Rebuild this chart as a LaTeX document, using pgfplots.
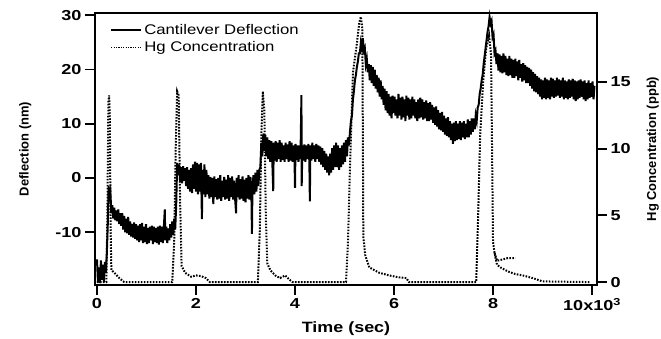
\documentclass[border=0pt]{standalone}
\usepackage{fontspec}
\setmainfont{Liberation Sans}
\newfontfamily\hfont{Liberation Sans}[FakeStretch=1.2]
\newfontfamily\tfont{Liberation Sans}[FakeStretch=1.25]
\usepackage{pgfplots}
\pgfplotsset{compat=1.18}
\newcommand\tickfont{\tfont\bfseries\fontsize{14.5}{14.5}\selectfont}
\newcommand\vlabfont{\bfseries\fontsize{13}{13}\selectfont}
\pgfplotsset{
  common/.style={
    at={(0,0)}, anchor=south west,
    scale only axis, width=502bp, height=272bp,
    xmin=-0.04, xmax=10.10,
    tick align=outside, major tick length=10bp,
    every tick/.style={line width=1.8bp, black},
    axis line style={line width=1.6bp},
    /pgf/number format/assume math mode=true,
    ticklabel style={font=\tickfont},
    clip=false,
  }
}
\begin{document}
\begin{tikzpicture}
% Right axis: Hg concentration (ppb)
\begin{axis}[common,
  ymin=-0.22, ymax=20.18,
  axis x line=none,
  axis y line*=right,
  ytick={0,5,10,15},
  ylabel={Hg Concentration (ppb)},
  ylabel style={at={(axis description cs:1.111,0.5)}, anchor=center, font=\vlabfont},
]
\addplot[black, line width=2bp, dash pattern=on 1.6bp off 1.4bp] coordinates {
(0.00,0) (0.19,0) (0.21,5) (0.23,13.5) (0.245,14.0) (0.26,12) (0.275,4) (0.29,0.9)
(0.35,0.7) (0.45,0.3) (0.55,0) (1.52,0) (1.56,3) (1.59,10) (1.62,14.3) (1.65,14.0)
(1.68,6) (1.71,1.2) (1.78,0.7) (1.9,0.4) (2.0,0.5) (2.1,0.45) (2.2,0.3) (2.28,0)
(3.25,0) (3.29,4) (3.32,11) (3.35,14.3) (3.38,13) (3.41,5) (3.44,1.4) (3.5,0.9)
(3.6,0.5) (3.7,0.3) (3.8,0.5) (3.88,0.2) (3.95,0) (5.03,0) (5.07,3) (5.11,8.6)
(5.17,15.7) (5.25,17.9) (5.30,19.5) (5.33,19.9) (5.36,19) (5.38,3.4) (5.42,2.0)
(5.5,1.1) (5.7,0.7) (5.9,0.5) (6.1,0.35) (6.25,0.3) (6.30,0) (7.66,0) (7.70,5)
(7.74,11) (7.80,15) (7.86,17.5) (7.92,18.5) (7.96,17) (7.98,10) (8.00,3) (8.03,2.2)
(8.08,1.3) (8.15,1.1) (8.3,0.8) (8.45,0.6) (8.6,0.5) (8.8,0.3) (9.0,0.05) (9.95,0)
};
\addplot[black, line width=2bp, dash pattern=on 1.6bp off 1.4bp] coordinates {
(8.03,2.2) (8.08,1.6) (8.2,1.7) (8.3,1.8) (8.45,1.8)
};
\end{axis}
% Left axis: deflection (nm)
\begin{axis}[common,
  ymin=-19.74, ymax=30.44,
  xtick={0,2,4,6,8,10},
  xticklabels={0,2,4,6,8,10x10\textsuperscript{3}},
  ytick={-10,0,10,20,30},
  xtick pos=bottom, ytick pos=left,
  xlabel={Time (sec)},
  xlabel style={at={(axis description cs:0.5,-0.162)}, anchor=center, font=\hfont\bfseries\fontsize{15}{15}\selectfont},
  ylabel={Deflection (nm)},
  ylabel style={at={(axis description cs:-0.139,0.5)}, anchor=center, font=\vlabfont},
  legend style={draw=none, fill=none, at={(axis description cs:0.03,0.967)}, anchor=north west,
    font=\hfont\fontsize{14}{14}\selectfont, row sep=2bp, inner sep=0pt},
  legend cell align=left,
  legend image code/.code={\draw[#1] (0bp,0bp) -- (30bp,0bp);},
]
\addplot[black, line width=2bp] coordinates {
(0.00,-15.0) (0.02,-19.3) (0.04,-16.5) (0.06,-19.4) (0.08,-15.2) (0.10,-18.8) (0.12,-16.0)
(0.14,-19.2) (0.16,-15.5) (0.18,-17.5) (0.20,-13.5) (0.22,-8) (0.235,-1.5) (0.25,-3.5)
(0.27,-2.5) (0.29,-6.5) (0.31,-5.0)
(0.33,-7.5) (0.35,-5.5) (0.37,-7.8) (0.39,-6.0) (0.41,-8.0) (0.43,-5.8) (0.45,-8.5)
(0.47,-6.5) (0.49,-8.8) (0.51,-6.5) (0.53,-9.5) (0.55,-7.0) (0.57,-10.0) (0.59,-7.5)
(0.61,-10.2) (0.63,-7.2) (0.65,-10.5) (0.67,-8.0) (0.69,-10.8) (0.71,-8.5) (0.73,-11.0)
(0.75,-8.2) (0.77,-11.2) (0.79,-8.5) (0.81,-11.5) (0.83,-8.8) (0.85,-11.8) (0.87,-8.5)
(0.89,-11.5) (0.91,-8.3) (0.93,-12.0) (0.95,-9.0) (0.97,-11.8) (0.99,-8.5) (1.01,-12.2)
(1.03,-9.2) (1.05,-12.0) (1.07,-9.0) (1.09,-11.5) (1.11,-8.8) (1.13,-12.2) (1.15,-9.0)
(1.17,-11.8) (1.19,-9.2) (1.21,-12.0) (1.23,-9.0) (1.25,-12.3) (1.27,-8.8) (1.29,-11.8)
(1.31,-9.0) (1.33,-12.0) (1.35,-9.2) (1.37,-5.8) (1.38,-11.5) (1.40,-9.0) (1.42,-12.0)
(1.44,-9.3) (1.46,-11.5) (1.48,-8.5) (1.50,-11.0) (1.52,-8.0) (1.54,-10.5) (1.56,-7.5)
(1.58,-9.5) (1.60,-5.0) (1.62,2.8) (1.64,0.5) (1.66,2.5) (1.68,-0.8)
(1.70,2.0) (1.72,-1.0) (1.74,2.2) (1.76,-0.5) (1.78,1.8) (1.80,-1.5) (1.82,2.0) (1.84,-2.0)
(1.86,1.5) (1.88,-2.5) (1.90,1.8) (1.92,-2.8) (1.94,2.5) (1.96,-2.0) (1.98,3.0) (2.00,-2.5)
(2.02,2.8) (2.04,-3.0) (2.06,2.5) (2.08,-2.5) (2.10,2.8) (2.12,-7.6) (2.13,1.5) (2.15,-3.0)
(2.17,2.5) (2.19,-3.5) (2.21,1.5) (2.23,-3.0) (2.25,0.5) (2.27,-3.8) (2.29,0.2) (2.31,-3.5)
(2.33,0.0) (2.35,-4.8) (2.37,0.3) (2.39,-3.5) (2.41,-0.2) (2.43,-4.0) (2.45,0.0) (2.47,-3.8)
(2.49,0.5) (2.51,-4.2) (2.53,-0.5) (2.55,-3.5) (2.57,0.2) (2.59,-4.0) (2.61,-0.3) (2.63,-3.8)
(2.65,0.5) (2.67,-4.2) (2.69,0.0) (2.71,-3.5) (2.73,0.3) (2.75,-4.0) (2.77,-0.5) (2.79,-3.8)
(2.81,-6.5) (2.82,0.0) (2.84,-3.5) (2.86,0.5) (2.88,-4.0) (2.90,-0.2) (2.92,-3.8) (2.94,0.3)
(2.96,-4.2) (2.98,-0.3) (3.00,-4.5) (3.02,0.0) (3.04,-3.8) (3.06,0.5) (3.08,-4.0) (3.10,0.2)
(3.12,-3.5) (3.13,-10.3) (3.14,-2.0) (3.16,0.5) (3.18,-3.0) (3.20,1.0) (3.22,-2.5) (3.24,1.5)
(3.26,-1.5) (3.28,1.5) (3.30,2.0) (3.32,6.5) (3.34,4.0) (3.36,8.2) (3.38,5.0) (3.40,8.0)
(3.42,4.0) (3.44,7.5) (3.46,3.5) (3.48,7.0) (3.50,3.0) (3.52,6.8) (3.54,3.5) (3.56,-2.4)
(3.57,6.5) (3.59,3.2) (3.61,6.8) (3.63,3.0) (3.65,6.5) (3.67,3.5) (3.69,7.0) (3.71,3.0)
(3.73,6.5) (3.75,3.3) (3.77,6.0) (3.79,3.0) (3.81,6.5) (3.83,3.5) (3.85,6.2) (3.87,3.0)
(3.89,6.8) (3.91,3.2) (3.93,6.5) (3.95,3.0) (3.97,6.0) (3.99,3.5) (4.00,-1.8) (4.01,6.3)
(4.03,3.3) (4.05,6.0) (4.07,3.0) (4.09,6.0) (4.11,3.5) (4.13,15.3) (4.135,-1.5) (4.15,6.0)
(4.17,3.2) (4.19,6.2) (4.21,3.0) (4.23,6.0) (4.25,3.5) (4.27,6.3) (4.29,3.0) (4.30,-4.3)
(4.31,6.0) (4.33,3.2) (4.35,6.5) (4.37,3.5) (4.39,6.0) (4.41,3.0) (4.43,6.3) (4.45,3.5)
(4.47,6.0) (4.49,3.0) (4.51,5.8) (4.53,2.5) (4.55,5.5) (4.57,2.0) (4.59,5.0) (4.61,1.5)
(4.63,4.5) (4.65,1.0) (4.67,4.0) (4.69,0.5) (4.71,4.5) (4.73,1.0) (4.75,5.5) (4.77,1.5)
(4.79,6.0) (4.81,2.0) (4.83,6.5) (4.85,2.0) (4.87,6.0) (4.89,1.5) (4.91,5.5) (4.93,2.0)
(4.95,6.0) (4.97,2.5) (4.99,6.5) (5.01,3.0) (5.03,7.0) (5.05,4.0) (5.07,7.5) (5.09,6.0)
(5.11,8.5) (5.13,10.5) (5.15,11.5) (5.17,14.5) (5.19,16.0) (5.21,18.0) (5.23,19.0)
(5.25,20.5) (5.27,21.5) (5.29,23.0) (5.31,23.0) (5.33,25.0) (5.35,24.0) (5.37,25.8)
(5.39,23.5) (5.41,24.0) (5.43,21.0) (5.45,22.0) (5.47,19.5)
(5.49,21.0) (5.51,18.0) (5.53,20.8) (5.55,17.5) (5.57,20.5) (5.59,17.0) (5.61,20.0)
(5.63,16.5) (5.65,19.0) (5.67,15.8) (5.69,18.5) (5.71,15.0) (5.73,18.0) (5.75,14.5)
(5.77,17.0) (5.79,13.5) (5.81,16.5) (5.83,12.5) (5.85,16.0) (5.87,12.0) (5.89,15.5)
(5.91,11.5) (5.93,15.0) (5.95,11.0) (5.97,15.2) (5.99,12.0) (6.01,15.0) (6.03,11.5)
(6.05,14.5) (6.07,11.0) (6.09,15.5) (6.11,11.5) (6.13,14.8) (6.15,10.8) (6.17,15.0)
(6.19,11.2) (6.21,14.5) (6.23,10.5) (6.25,15.2) (6.27,11.5) (6.29,14.8) (6.31,10.8)
(6.33,14.5) (6.35,11.0) (6.37,15.0) (6.39,11.5) (6.41,14.5) (6.43,11.0) (6.45,14.0)
(6.47,10.5) (6.49,14.5) (6.51,11.0) (6.53,14.8) (6.55,11.2) (6.57,14.5) (6.59,10.8)
(6.61,14.0) (6.63,11.0) (6.65,14.3) (6.67,10.5) (6.69,13.8) (6.71,10.5) (6.73,14.0)
(6.75,10.8) (6.77,13.5) (6.79,10.2) (6.81,13.0) (6.83,9.8) (6.85,13.2) (6.87,9.5)
(6.89,12.5) (6.91,9.0) (6.93,12.0) (6.95,8.8) (6.97,12.2) (6.99,8.5) (7.01,11.5)
(7.03,8.0) (7.05,11.0) (7.07,7.8) (7.09,11.2) (7.11,7.5) (7.13,10.5) (7.15,7.0)
(7.17,10.0) (7.19,6.3) (7.21,10.2) (7.23,6.8) (7.25,10.5) (7.27,7.0) (7.29,10.0)
(7.31,7.2) (7.33,10.5) (7.35,7.0) (7.37,10.2) (7.39,7.5) (7.41,10.5) (7.43,7.2)
(7.45,10.0) (7.47,7.5) (7.49,10.8) (7.51,7.5) (7.53,10.5) (7.55,8.0) (7.57,11.0)
(7.59,8.5) (7.61,11.0) (7.63,9.0) (7.65,11.5) (7.67,10.5) (7.69,13.0) (7.71,13.5)
(7.73,15.5) (7.75,16.5) (7.77,18.0) (7.79,19.0) (7.81,21.0) (7.83,22.5) (7.85,24.0)
(7.87,25.5) (7.89,27.0) (7.91,28.0) (7.93,29.7) (7.95,28.5) (7.97,29.0) (7.99,26.0)
(8.01,26.5) (8.03,23.0) (8.05,23.5) (8.07,21.0) (8.09,23.0) (8.11,19.8) (8.13,22.8)
(8.15,19.5) (8.17,22.5) (8.19,19.3) (8.21,23.0) (8.23,19.5) (8.25,22.5) (8.27,19.0)
(8.29,22.0) (8.31,18.8) (8.33,22.5) (8.35,19.0) (8.37,22.0) (8.39,18.5) (8.41,21.8)
(8.43,18.5) (8.45,22.0) (8.47,18.8) (8.49,21.5) (8.51,18.0) (8.53,21.8) (8.55,18.5)
(8.57,21.0) (8.59,17.8) (8.61,21.2) (8.63,18.0) (8.65,20.8) (8.67,17.5) (8.69,20.5)
(8.71,17.5) (8.73,20.3) (8.75,17.0) (8.77,20.0) (8.79,16.5) (8.81,19.5) (8.83,16.0)
(8.85,19.2) (8.87,15.8) (8.89,18.8) (8.91,15.5) (8.93,18.5) (8.95,15.0) (8.97,18.2)
(8.99,14.5) (9.01,18.0) (9.03,14.8) (9.05,18.5) (9.07,14.5) (9.09,18.2) (9.11,14.8)
(9.13,18.0) (9.15,14.5) (9.17,18.5) (9.19,15.0) (9.21,18.3) (9.23,14.8) (9.25,18.0)
(9.27,15.0) (9.29,18.5) (9.31,15.2) (9.33,18.2) (9.35,14.8) (9.37,18.0) (9.39,15.0)
(9.41,18.5) (9.43,14.5) (9.45,18.0) (9.47,14.8) (9.49,17.8) (9.51,14.5) (9.53,18.2)
(9.55,14.8) (9.57,18.0) (9.59,15.0) (9.61,18.3) (9.63,14.5) (9.65,18.0) (9.67,14.2)
(9.69,17.8) (9.71,14.5) (9.73,18.0) (9.75,14.8) (9.77,18.2) (9.79,15.0) (9.81,17.8)
(9.83,14.5) (9.85,18.0) (9.87,14.2) (9.89,17.5) (9.91,14.5) (9.93,18.0) (9.95,14.8)
(9.97,17.5) (9.99,15.0) (10.01,17.8) (10.03,14.5) (10.05,17.0)
};
\addlegendentry{Cantilever Deflection}
\addlegendimage{black, line width=1.3bp, dash pattern=on 1.2bp off 1.2bp}
\addlegendentry{Hg Concentration}
\end{axis}
\pgfresetboundingbox
\path (-95bp,-54bp) rectangle (566bp,285bp);
\end{tikzpicture}
\end{document}
